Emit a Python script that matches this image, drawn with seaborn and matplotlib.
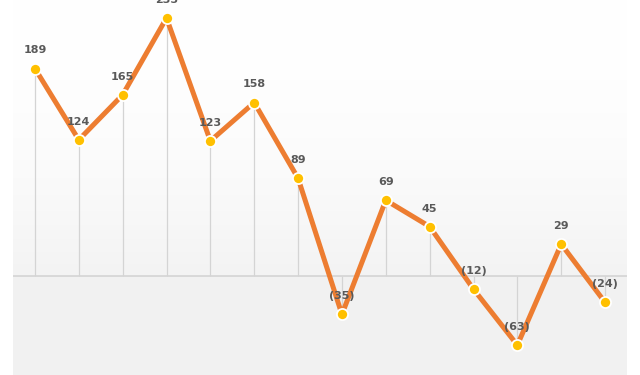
import numpy as np
import pandas as pd
import matplotlib
matplotlib.use("Agg")
import matplotlib.pyplot as plt
import seaborn as sns

categories = list(range(14))
values = [189, 124, 165, 235, 123, 158, 89, -35, 69, 45, -12, -63, 29, -24]
labels = ["189", "124", "165", "235", "123", "158", "89", "(35)", "69", "45", "(12)", "(63)", "29", "(24)"]

df = pd.DataFrame({"cat": categories, "val": values})

sns.set_theme(style="white")
plt.rcParams['font.family'] = ['DejaVu Sans']

fig = plt.figure(figsize=(6.4, 3.75), dpi=100)
ax = fig.add_axes([13/640, 0, 614/640, 1])
ymin, ymax = -90.2, 251.4
ax.set_xlim(-0.5, 13.5)
ax.set_ylim(ymin, ymax)

# background gradient: white at top to light grey at zero, constant below
n = 400
ys = np.linspace(ymax, ymin, n)
g = np.where(ys > 0, 1.0 - (1.0 - 0.953) * (1 - ys / ymax) ** 2, 0.949)
img = np.repeat(g[:, None], 2, axis=1)
ax.imshow(np.dstack([img, img, img]), extent=[-0.5, 13.5, ymin, ymax], aspect='auto', zorder=0, interpolation='bilinear')

# drop lines
ax.vlines(df["cat"], 0, df["val"], color="#d4d4d4", lw=0.9, zorder=1)
ax.axhline(0, color="#d4d4d4", lw=1.2, zorder=1)

sns.lineplot(data=df, x="cat", y="val", ax=ax, color="#ED7D31", lw=3.6, zorder=2,
             marker="o", markersize=8, markerfacecolor="#FFC000", markeredgecolor="white",
             markeredgewidth=1.3)

for x, v, t in zip(categories, values, labels):
    ax.annotate(t, (x, v), xytext=(0, 13), textcoords="offset points", ha="center", va="center",
                fontsize=8, fontweight="bold", color="#595959", zorder=3)

for s in ax.spines.values():
    s.set_visible(False)
ax.set_xticks([])
ax.set_yticks([])
ax.set_xlabel("")
ax.set_ylabel("")

fig.savefig("out.png", dpi=100)
